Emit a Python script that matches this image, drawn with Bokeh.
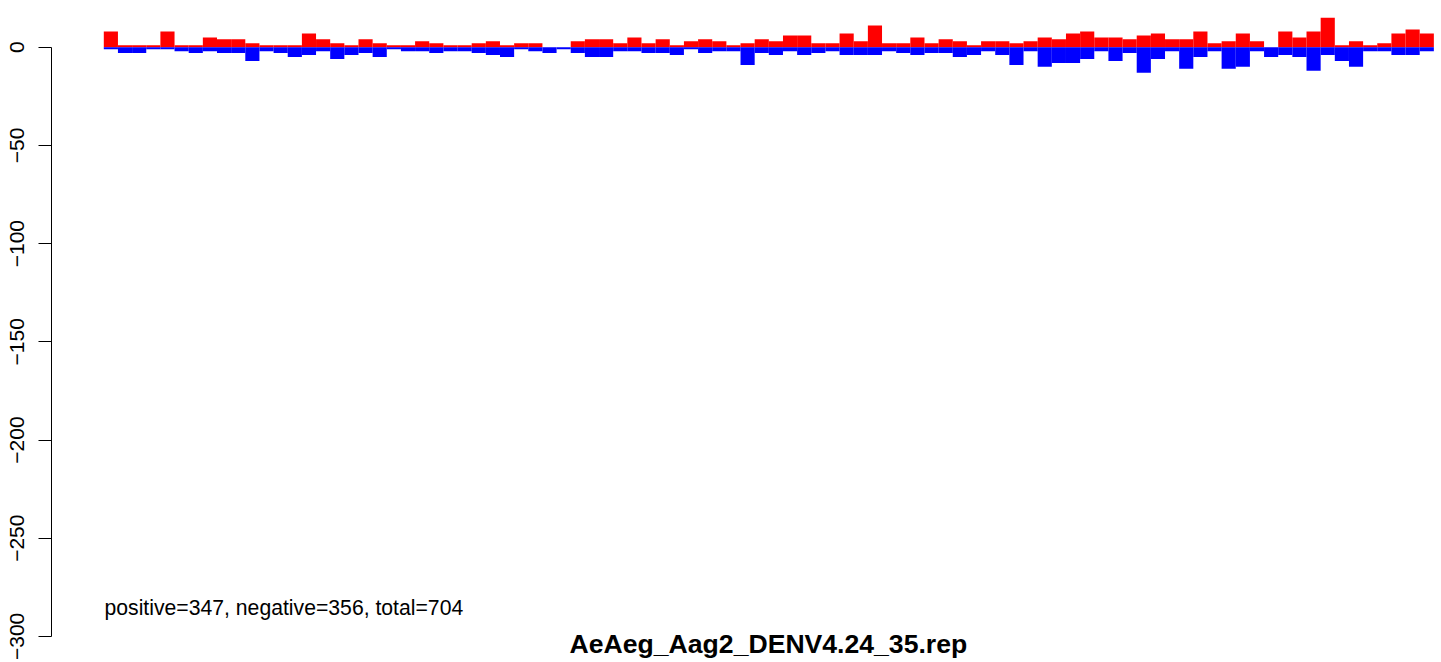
from bokeh.plotting import figure
from bokeh.models import FixedTicker, Label, ColumnDataSource
from bokeh.embed import file_html
from bokeh.resources import INLINE

# counts per genome bin (positive strand = red, negative strand = blue)
positive = [8, 1, 1, 1, 8, 1, 1, 5, 4, 4, 2, 1, 1, 1, 7, 4,
            2, 1, 4, 2, 1, 1, 3, 2, 1, 1, 2, 3, 1, 2, 2, 0,
            0, 3, 4, 4, 2, 5, 2, 4, 1, 3, 4, 3, 1, 2, 4, 3,
            6, 6, 2, 2, 7, 3, 11, 2, 2, 5, 2, 4, 3, 1, 3, 3,
            2, 3, 5, 4, 7, 8, 5, 5, 4, 6, 7, 4, 4, 8, 2,
            3, 7, 3, 0, 8, 5, 8, 15, 1, 3, 1, 2, 7, 9, 7]
negative = [1, 3, 3, 1, 1, 2, 3, 2, 3, 3, 7, 2, 3, 5, 4, 2,
            6, 4, 3, 5, 1, 2, 2, 3, 2, 2, 3, 4, 5, 1, 2, 3,
            1, 3, 5, 5, 2, 2, 3, 3, 4, 1, 3, 2, 2, 9, 3, 4,
            2, 4, 3, 2, 4, 4, 4, 2, 3, 4, 3, 3, 5, 4, 2, 4,
            9, 2, 10, 8, 8, 6, 2, 7, 3, 13, 6, 2, 11, 5, 2,
            11, 10, 2, 5, 4, 5, 12, 4, 7, 10, 2, 2, 4, 4, 2]
bins = list(range(len(positive)))

y_ticks = [0, -50, -100, -150, -200, -250, -300]
y_tick_labels = ["0", "\u221250", "\u2212100", "\u2212150", "\u2212200", "\u2212250", "\u2212300"]

title_text = "AeAeg_Aag2_DENV4.24_35.rep"
summary_text = "positive=347, negative=356, total=704"

src = ColumnDataSource(dict(
    x=[b + 0.5 for b in bins],
    pos=positive,
    neg=[-v for v in negative],
))

FONT = "Liberation Sans"

p = figure(width=1441, height=662, output_backend="svg", toolbar_location=None,
           x_range=(-3.696, 94.54), y_range=(-313.29, 23.78),
           x_axis_location=None,
           min_border_left=51, min_border_right=0, min_border_top=0, min_border_bottom=0)

p.vbar(x="x", width=1.0, top="pos", bottom=0, source=src,
       fill_color="#FF0000", line_color=None)
p.vbar(x="x", width=1.0, top=0, bottom="neg", source=src,
       fill_color="#0000FF", line_color=None)

p.xgrid.visible = False
p.ygrid.visible = False
p.outline_line_color = None
p.background_fill_color = "white"
p.border_fill_color = "white"

ax = p.yaxis[0]
ax.bounds = (-300, 0)
ax.ticker = FixedTicker(ticks=y_ticks)
ax.major_label_overrides = {t: l for t, l in zip(y_ticks, y_tick_labels)}
ax.major_label_orientation = "vertical"
ax.major_label_text_font = FONT
ax.major_label_text_font_size = "21px"
ax.major_label_text_color = "black"
ax.major_label_standoff = 14
ax.major_tick_out = 13
ax.major_tick_in = 0
ax.minor_tick_out = 0
ax.minor_tick_in = 0
ax.axis_line_color = "black"
ax.axis_line_width = 1
ax.major_tick_line_width = 1

p.add_layout(Label(x=0.05, y=-285.3, text=summary_text, text_font=FONT,
                   text_font_size="21.2px", text_align="left", text_baseline="middle",
                   text_color="black"))
p.add_layout(Label(x=46.97, y=-304.1, text=title_text, text_font=FONT,
                   text_font_size="26.6px", text_font_style="bold", text_align="center",
                   text_baseline="middle", text_color="black"))

open("out.html", "w").write(file_html(p, INLINE))
